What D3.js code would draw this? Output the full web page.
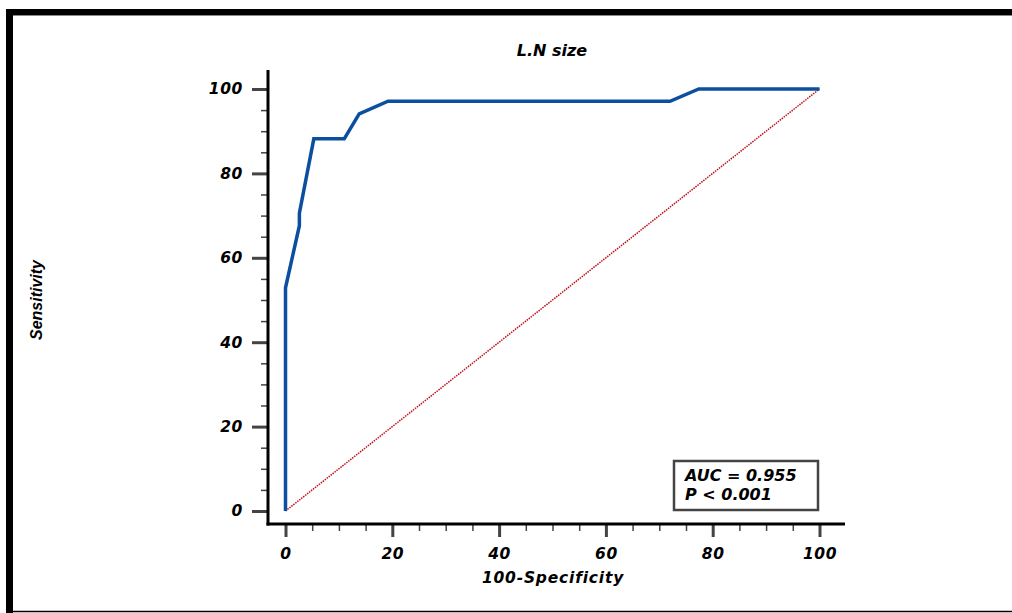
<!DOCTYPE html>
<html>
<head>
<meta charset="utf-8">
<script src="https://cdn.jsdelivr.net/npm/d3@7"></script>
<style>
  body { margin: 0; background: #fff; }
  svg { display: block; }
</style>
</head>
<body>
<div id="chart"></div>
<script>
// ROC curve: 100-Specificity vs Sensitivity
const fpr = [0, 0, 2.6, 2.6, 5.3, 11.0, 13.8, 19.2, 72.0, 77.4, 100];
const tpr = [0, 52.9, 67.6, 70.6, 88.2, 88.2, 94.1, 97.1, 97.1, 100, 100];
const majorTicks = [0, 20, 40, 60, 80, 100];
const minorTicks = d3.range(0, 101, 5).filter(v => v % 20 !== 0);
const title = 'L.N size';
const xTitle = '100-Specificity';
const yTitle = 'Sensitivity';
const statLines = ['AUC = 0.955', 'P < 0.001'];

const W = 1012;
const H = 613;
const wideFont = '"DejaVu Sans", sans-serif';

const svg = d3.select('#chart').append('svg')
  .attr('width', W)
  .attr('height', H);

// outer frame (top & left thick, bottom thin)
svg.append('line').attr('x1', 6).attr('x2', W).attr('y1', 12).attr('y2', 12)
  .attr('stroke', '#000').attr('stroke-width', 6);
svg.append('line').attr('x1', 6).attr('x2', W).attr('y1', 15.5).attr('y2', 15.5)
  .attr('stroke', '#888').attr('stroke-width', 1);
svg.append('line').attr('x1', 9.5).attr('x2', 9.5).attr('y1', 9).attr('y2', H)
  .attr('stroke', '#000').attr('stroke-width', 7);
svg.append('line').attr('x1', 6).attr('x2', W).attr('y1', 611.5).attr('y2', 611.5)
  .attr('stroke', '#000').attr('stroke-width', 1.5);

const x = d3.scaleLinear().domain([0, 100]).range([285.5, 819.5]);
const y = d3.scaleLinear().domain([0, 100]).range([511, 89]);

const axisX = 268;
const axisY = 524;

// y axis ticks
const yMajor = svg.append('g')
  .attr('transform', `translate(${axisX - 1},0)`)
  .call(d3.axisLeft(y).tickValues(majorTicks).tickSize(15).tickPadding(9).tickFormat(d3.format('d')));
const yMinor = svg.append('g')
  .attr('transform', `translate(${axisX - 1},0)`)
  .call(d3.axisLeft(y).tickValues(minorTicks).tickSize(6).tickFormat(''));

// x axis ticks
const xMajor = svg.append('g')
  .attr('transform', `translate(0,${axisY + 1})`)
  .call(d3.axisBottom(x).tickValues(majorTicks).tickSize(12).tickPadding(11).tickFormat(d3.format('d')));
const xMinor = svg.append('g')
  .attr('transform', `translate(0,${axisY + 1})`)
  .call(d3.axisBottom(x).tickValues(minorTicks).tickSize(6).tickFormat(''));

[yMajor, yMinor, xMajor, xMinor].forEach(g => g.select('.domain').remove());
[yMajor, xMajor].forEach(g => g.selectAll('.tick line').attr('stroke', '#444').attr('stroke-width', 3));
[yMinor, xMinor].forEach(g => g.selectAll('.tick line').attr('stroke', '#444').attr('stroke-width', 1.5));
[yMajor, xMajor].forEach(g => g.selectAll('.tick text')
  .attr('font-family', wideFont)
  .attr('font-weight', 'bold')
  .attr('font-style', 'italic')
  .attr('font-size', 15.5)
  .attr('letter-spacing', 0.6)
  .attr('fill', '#000'));

// axis lines
svg.append('line').attr('x1', axisX).attr('x2', axisX).attr('y1', 70).attr('y2', axisY + 1.5)
  .attr('stroke', '#000').attr('stroke-width', 3);
svg.append('line').attr('x1', axisX - 1.5).attr('x2', 845).attr('y1', axisY).attr('y2', axisY)
  .attr('stroke', '#000').attr('stroke-width', 3);

// reference diagonal
svg.append('line')
  .attr('x1', x(0)).attr('y1', y(0))
  .attr('x2', x(100)).attr('y2', y(100))
  .attr('stroke', '#c0101a')
  .attr('stroke-width', 1.5)
  .attr('stroke-dasharray', '1.5,1');

// ROC curve
const rocLine = d3.line()
  .x((d, i) => x(fpr[i]))
  .y(d => y(d));
svg.append('path')
  .datum(tpr)
  .attr('d', rocLine)
  .attr('fill', 'none')
  .attr('stroke', '#0b4f9e')
  .attr('stroke-width', 3.5)
  .attr('stroke-linejoin', 'miter');

// titles
svg.append('text')
  .attr('x', 552).attr('y', 56)
  .attr('text-anchor', 'middle')
  .attr('font-family', wideFont)
  .attr('font-weight', 'bold')
  .attr('font-style', 'italic')
  .attr('font-size', 16)
  .text(title);

svg.append('text')
  .attr('x', 553).attr('y', 583)
  .attr('text-anchor', 'middle')
  .attr('font-family', wideFont)
  .attr('font-weight', 'bold')
  .attr('font-style', 'italic')
  .attr('font-size', 15.5)
  .attr('letter-spacing', 0.8)
  .text(xTitle);

svg.append('text')
  .attr('transform', 'translate(42,300) rotate(-90)')
  .attr('text-anchor', 'middle')
  .attr('font-family', '"Liberation Sans", Arial, sans-serif')
  .attr('font-weight', 'bold')
  .attr('font-style', 'italic')
  .attr('font-size', 16)
  .text(yTitle);

// stats box
svg.append('rect')
  .attr('x', 674).attr('y', 461)
  .attr('width', 144).attr('height', 49)
  .attr('fill', '#fff')
  .attr('stroke', '#444')
  .attr('stroke-width', 2.5);

svg.append('g').selectAll('text')
  .data(statLines)
  .join('text')
  .attr('x', 685)
  .attr('y', (d, i) => 481 + i * 19)
  .attr('font-family', wideFont)
  .attr('font-weight', 'bold')
  .attr('font-style', 'italic')
  .attr('font-size', 16)
  .text(d => d);
</script>
</body>
</html>
